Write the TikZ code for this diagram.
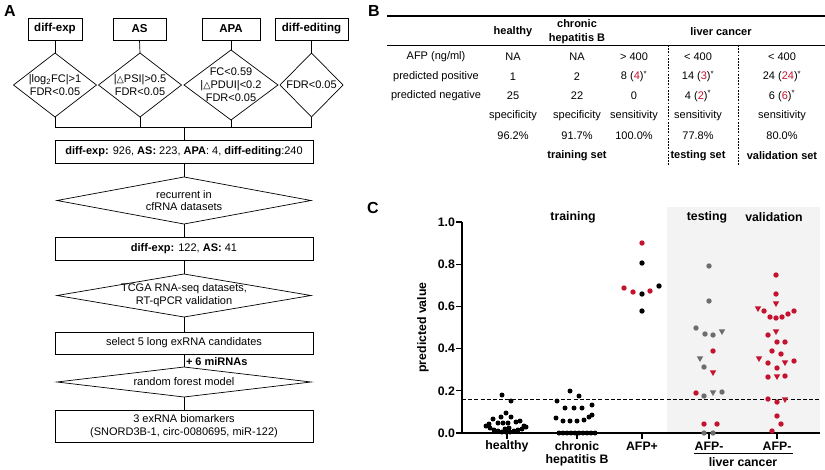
\documentclass[tikz,border=0pt]{standalone}
\usepackage{fontspec}
\setmainfont{Liberation Sans}
\newfontfamily\dejavu{DejaVu Sans}
\usetikzlibrary{shapes.geometric}
\definecolor{myred}{HTML}{C4122F}
\definecolor{mygray}{HTML}{6D6D6D}
\definecolor{bggray}{HTML}{F3F3F3}
\newcommand{\tri}{{\dejavu\fontsize{9.5}{9.5}\selectfont △}}
\begin{document}
\begin{tikzpicture}[x=1pt,y=-1pt,
 every node/.style={inner sep=0pt, outer sep=0pt},
 fa/.style={font=\fontsize{11}{12.8}\selectfont},
 box/.style={draw, line width=0.7pt, fa, align=center},
 topbox/.style={box, font=\fontsize{11.5}{13}\selectfont\bfseries, minimum height=22pt},
 dia/.style={draw, diamond, line width=0.7pt},
 conn/.style={line width=0.7pt},
 tb/.style={font=\fontsize{11}{13}\selectfont, align=center},
 tbb/.style={tb, font=\fontsize{11}{13}\selectfont\bfseries},
 cl/.style={font=\fontsize{12.3}{14}\selectfont\bfseries, align=center},
 pl/.style={font=\fontsize{16}{18}\selectfont\bfseries},
]
\useasboundingbox (0,0) rectangle (825,469);

% ---------------- Panel A ----------------
\node[pl] (lA) at (10,11) {A};
\node[topbox, minimum width=54pt] (t1) at (55,29) {diff-exp};
\node[topbox, minimum width=53pt] (t2) at (139.5,29) {AS};
\node[topbox, minimum width=58pt] (t3) at (231,29) {APA};
\node[topbox, minimum width=73pt] (t4) at (311.5,29) {diff-editing};

\node[dia, minimum width=83pt, minimum height=64pt] (d1) at (55,85) {};
\node[fa, align=center] (d1t) at (d1.center) {|log\textsubscript{2}FC|>1\\FDR<0.05};
\node[dia, minimum width=83pt, minimum height=64pt] (d2) at (140,85) {};
\node[fa, align=center] (d2t) at (d2.center) {|\tri PSI|>0.5\\FDR<0.05};
\node[dia, minimum width=94pt, minimum height=70pt] (d3) at (231,85) {};
\node[fa, align=center] (d3t) at (d3.center) {FC<0.59\\|\tri PDUI|<0.2\\FDR<0.05};
\node[dia, minimum width=63pt, minimum height=64pt] (d4) at (311.5,85) {};
\node[fa, align=center] (d4t) at (d4.center) {FDR<0.05};

\foreach \i in {1,2,3,4} \draw[conn] (t\i.south) -- (d\i.north);
\coordinate (bar) at (184,127);
\draw[conn] (d1.south) |- (bar -| d4.south) -- (d4.south);
\draw[conn] (d2.south) -- (d2.south |- bar);
\draw[conn] (d3.south) -- (d3.south |- bar);

\node[box, minimum width=258pt, minimum height=23pt] (b1) at (184,151.5)
  {\textbf{diff-exp:} 926, \textbf{AS:} 223, \textbf{APA}: 4, \textbf{diff-editing}:240};
\draw[conn] (bar) -- (b1.north);
\node[dia, minimum width=254pt, minimum height=47pt] (dr) at (184,200.5) {};
\node[fa, align=center] (drt) at (dr.center) {recurrent in\\cfRNA datasets};
\node[box, minimum width=258pt, minimum height=23pt] (b2) at (184,248.5)
  {\textbf{diff-exp:} 122, \textbf{AS:} 41};
\node[dia, minimum width=254pt, minimum height=43pt] (dt) at (184,295.5) {};
\node[fa, align=center] (dtt) at (dt.center) {TCGA RNA-seq datasets,\\RT-qPCR validation};
\node[box, minimum width=258pt, minimum height=22pt] (b3) at (184,343) {select 5 long exRNA candidates};
\node[dia, minimum width=254pt, minimum height=30pt] (drf) at (184,382) {};
\node[fa] (drft) at (drf.center) {random forest model};
\node[box, minimum width=258pt, minimum height=32pt] (b4) at (184,426)
  {3 exRNA biomarkers\\(SNORD3B-1, circ-0080695, miR-122)};
\node[font=\fontsize{11}{12.8}\selectfont\bfseries, anchor=west] (mir) at (186,361.5) {+ 6 miRNAs};

\draw[conn] (b1.south) -- (dr.north);
\draw[conn] (dr.south) -- (b2.north);
\draw[conn] (b2.south) -- (dt.north);
\draw[conn] (dt.south) -- (b3.north);
\draw[conn] (b3.south) -- (drf.north);
\draw[conn] (drf.south) -- (b4.north);

% ---------------- Panel B ----------------
\node[pl] (lB) at (374,11) {B};
\draw[line width=1.3pt] (387,16) -- (825,16);
\draw[line width=0.8pt] (387,45) -- (825,45);
\draw[line width=0.8pt, dash pattern=on 1.8pt off 1.4pt] (668,45) -- (668,165);
\draw[line width=0.8pt, dash pattern=on 1.8pt off 1.4pt] (738,45) -- (738,165);

\node[tbb] (h1) at (513,32) {healthy};
\node[tbb, font=\fontsize{11}{14}\selectfont\bfseries] (h2) at (577,32) {chronic\\hepatitis B};
\node[tbb] (h3) at (721,32) {liver cancer};

\node[tb] (r1) at (436,57) {AFP (ng/ml)};
\node[tb] (r2) at (436,76.5) {predicted positive};
\node[tb] (r3) at (436,96) {predicted negative};

\node[tb] (c11) at (513,57) {NA};
\node[tb] (c12) at (577,57) {NA};
\node[tb] (c13) at (634,57) {> 400};
\node[tb] (c14) at (698,57) {< 400};
\node[tb] (c15) at (782,57) {< 400};

\node[tb] (c21) at (513,76.5) {1};
\node[tb] (c22) at (577,76.5) {2};
\node[tb] (c23) at (634,76.5) {8 (\textcolor{myred}{4})\textsuperscript{*}};
\node[tb] (c24) at (698,76.5) {14 (\textcolor{myred}{3})\textsuperscript{*}};
\node[tb] (c25) at (782,76.5) {24 (\textcolor{myred}{24})\textsuperscript{*}};

\node[tb] (c31) at (513,96) {25};
\node[tb] (c32) at (577,96) {22};
\node[tb] (c33) at (634,96) {0};
\node[tb] (c34) at (698,96) {4 (\textcolor{myred}{2})\textsuperscript{*}};
\node[tb] (c35) at (782,96) {6 (\textcolor{myred}{6})\textsuperscript{*}};

\node[tb] (c41) at (513,116) {specificity};
\node[tb] (c42) at (577,116) {specificity};
\node[tb] (c43) at (634,116) {sensitivity};
\node[tb] (c44) at (698,116) {sensitivity};
\node[tb] (c45) at (782,116) {sensitivity};

\node[tb] (c51) at (513,136) {96.2\%};
\node[tb] (c52) at (577,136) {91.7\%};
\node[tb] (c53) at (634,136) {100.0\%};
\node[tb] (c54) at (698,136) {77.8\%};
\node[tb] (c55) at (782,136) {80.0\%};

\node[tbb] (s1) at (577,156) {training set};
\node[tbb] (s2) at (698,156) {testing set};
\node[tbb] (s3) at (782,156) {validation set};

% ---------------- Panel C ----------------
\node[pl] (lC) at (373,208) {C};
\fill[bggray] (667,207) rectangle (820,433);
\node[cl] (hTr) at (573,217) {training};
\node[cl] (hTe) at (707,217) {testing};
\node[cl] (hVa) at (774,217) {validation};
\node[cl, rotate=90] (ylab) at (423,327.5) {predicted value};

\draw[line width=1pt, dash pattern=on 4pt off 2.2pt] (462,399) -- (820,399);
\draw[line width=1.6pt] (462,221.5) -- (462,433) -- (820,433);
\foreach \v/\lab in {0/0.0,1/0.2,2/0.4,3/0.6,4/0.8,5/1.0} {
  \draw[line width=1.3pt] (456,433-42.2*\v) -- (462,433-42.2*\v);
  \node[cl, anchor=east] (yt\v) at (455,433-42.2*\v) {\lab};
}
\foreach \x in {507,577,642,709,777} \draw[line width=1.3pt] (\x,433) -- (\x,438.5);
\node[cl] (xl1) at (507,446) {healthy};
\node[cl] (xl2) at (577,446) {chronic};
\node[cl] (xl2b) at (577,460) {hepatitis B};
\node[cl] (xl3) at (642,446) {AFP+};
\node[cl] (xl4) at (709,446) {AFP-};
\node[cl] (xl5) at (777,446) {AFP-};
\draw[line width=1.2pt] (694,453.5) -- (793,453.5);
\node[cl] (xl6) at (743,462) {liver cancer};

% data points
\def\r{2.7pt}
\foreach \x/\y in {502/395,511/401,506/413,501/417,511/417,493/419,520/421,498/423,503/423,508/423,516/422,489/424,524/426,490/428,494/430,498/431,502/432,506/432,510/432,514/431,518/430,522/429,526/427,486/426,505/429,509/428}
  \fill[black] (\x,\y) circle (2.5pt);
\foreach \x/\y in {570/391,579/396,557/401,565/408,574/408,582/408,592/405,592/415,556/418,563/421,570/421,577/421,584/420,589/417,559/433,563/433,567/433,571/433,575/433,579/433,583/433,587/433,591/433,595/433}
  \fill[black] (\x,\y) circle (2.5pt);
\foreach \x/\y in {642/263,642/294,659/286,642/311}
  \fill[black] (\x,\y) circle (\r);
\foreach \x/\y in {642/243,624/288,633/292,650/291}
  \fill[myred] (\x,\y) circle (\r);
\foreach \x/\y in {709/266,709/301,696/328,705/334,713/335,704/367,704/396,722/392,704/433,713/433}
  \fill[mygray] (\x,\y) circle (\r);
\foreach \x/\y in {722/332,700/359,713/393}
  \fill[mygray] (\x-3.2,\y-2.6) -- (\x+3.2,\y-2.6) -- (\x,\y+3) -- cycle;
\foreach \x/\y in {713/351,696/393,704/424,717/424}
  \fill[myred] (\x,\y) circle (\r);
\foreach \x/\y in {713/373}
  \fill[myred] (\x-3.2,\y-2.6) -- (\x+3.2,\y-2.6) -- (\x,\y+3) -- cycle;
\foreach \x/\y in {776/275,776/294,764/311,770/317,776/318,782/317,788/314,794/311,768/335,777/342,785/342,772/351,781/354,768/363,777/368,794/361,768/377,785/376,768/399,777/402,777/416,781/424,772/431}
  \fill[myred] (\x,\y) circle (\r);
\foreach \x/\y in {776/304,758/309,776/332,759/359,785/363,777/377,785/400}
  \fill[myred] (\x-3.2,\y-2.6) -- (\x+3.2,\y-2.6) -- (\x,\y+3) -- cycle;
\end{tikzpicture}
\end{document}
